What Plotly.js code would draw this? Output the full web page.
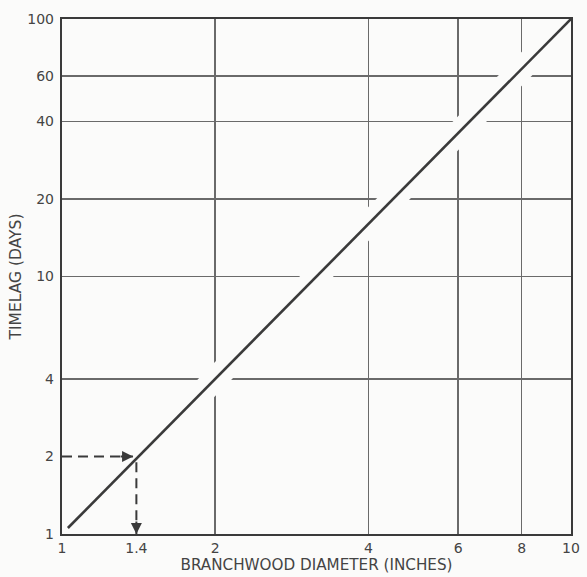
<!DOCTYPE html>
<html>
<head>
<meta charset="utf-8">
<script src="https://cdn.plot.ly/plotly-3.0.1.min.js"></script>
<style>html,body{margin:0;padding:0;background:#fbfbfa;}</style>
</head>
<body>
<div id="chart" style="width:587px;height:577px;"></div>
<script>
// Timelag vs branchwood diameter (log-log)
var diameter = [1.027, 10];
var timelag = [1.055, 100];
// worked example: 1.4 inch diameter -> 2 days
var exampleDiameter = 1.4;
var exampleTimelag = 2;
var xTickVals = [1, 1.4, 2, 4, 6, 8, 10];
var xTickText = ['1', '1.4', '2', '4', '6', '8', '10'];
var xGridVals = [2, 4, 6, 8];
var yTickVals = [1, 2, 4, 10, 20, 40, 60, 100];
var yTickText = ['1', '2', '4', '10', '20', '40', '60', '100'];
var yGridVals = [4, 10, 20, 40, 60];

var bg = '#fbfbfa';
var ink = '#3a3a3a';
var gridInk = '#6a6a6a';
var fontFam = '"DejaVu Sans", Verdana, sans-serif';

var traces = [
  { // gap in grid around the curve
    x: diameter, y: timelag, mode: 'lines',
    line: {color: bg, width: 24}, hoverinfo: 'skip', showlegend: false
  },
  {
    x: diameter, y: timelag, mode: 'lines',
    line: {color: ink, width: 2.6}, showlegend: false
  },
  {
    x: [xTickVals[0], exampleDiameter * 0.985], y: [exampleTimelag, exampleTimelag],
    mode: 'lines', line: {color: ink, width: 2, dash: '10px,6px'}, showlegend: false
  },
  {
    x: [exampleDiameter, exampleDiameter], y: [exampleTimelag * 0.95, yTickVals[0]],
    mode: 'lines', line: {color: ink, width: 2, dash: '10px,6px'}, showlegend: false
  }
];

var layout = {
  width: 587, height: 577,
  margin: {l: 62, r: 16, t: 19, b: 43},
  paper_bgcolor: bg, plot_bgcolor: bg,
  font: {family: fontFam, color: '#444', size: 13},
  showlegend: false,
  xaxis: {
    type: 'log', range: [0, 1],
    tickmode: 'array', tickvals: xTickVals, ticktext: xTickText,
    showgrid: false, zeroline: false,
    ticks: '',
    showline: true, linecolor: ink, linewidth: 2.2, mirror: true,
    tickfont: {size: 14, color: '#444'},
    minor: {tickmode: 'array', tickvals: xGridVals, showgrid: true, gridcolor: gridInk, gridwidth: 1.6, ticks: ''},
    title: {text: 'BRANCHWOOD DIAMETER (INCHES)', font: {size: 15.2, color: '#444'}, standoff: 4}
  },
  yaxis: {
    type: 'log', range: [0, 2],
    tickmode: 'array', tickvals: yTickVals, ticktext: yTickText,
    showgrid: false, zeroline: false,
    ticks: 'outside', ticklen: 3, tickcolor: 'rgba(0,0,0,0)',
    showline: true, linecolor: ink, linewidth: 2.2, mirror: true,
    tickfont: {size: 14, color: '#444'},
    minor: {tickmode: 'array', tickvals: yGridVals, showgrid: true, gridcolor: gridInk, gridwidth: 1.6, ticks: ''},
    title: {text: 'TIMELAG (DAYS)', font: {size: 15.5, color: '#444'}, standoff: 2}
  },
  annotations: [
    {
      x: Math.log10(exampleDiameter * 0.985), y: Math.log10(exampleTimelag),
      xref: 'x', yref: 'y', text: '', showarrow: true,
      ax: -14, ay: 0, arrowhead: 2, arrowsize: 1.1, arrowwidth: 2, arrowcolor: ink
    },
    {
      x: Math.log10(exampleDiameter), y: Math.log10(yTickVals[0]),
      xref: 'x', yref: 'y', text: '', showarrow: true,
      ax: 0, ay: -14, arrowhead: 2, arrowsize: 1.1, arrowwidth: 2, arrowcolor: ink
    }
  ]
};

Plotly.newPlot('chart', traces, layout, {displayModeBar: false, staticPlot: true});
</script>
</body>
</html>
